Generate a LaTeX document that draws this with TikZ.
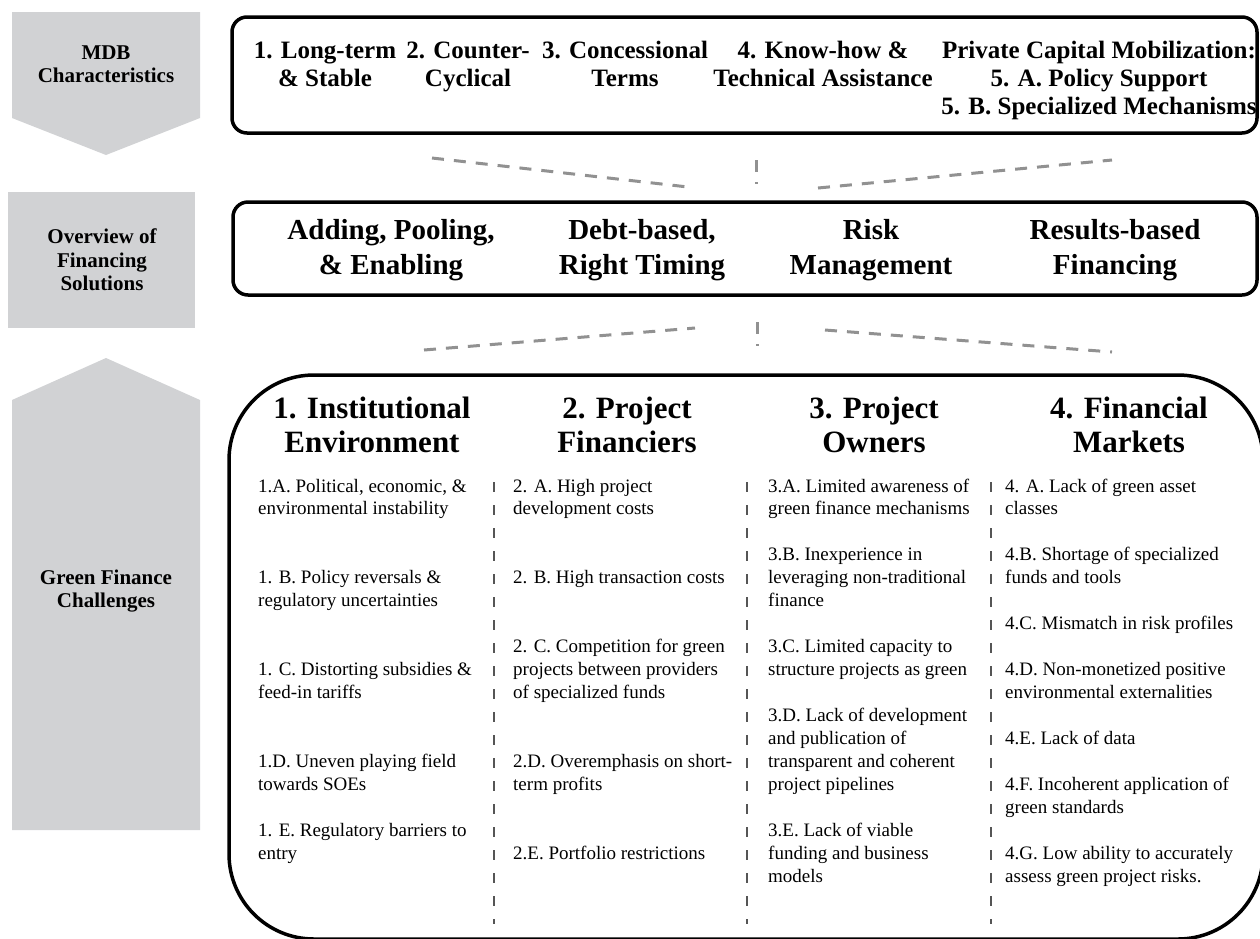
\documentclass[tikz,border=0pt]{standalone}
\usepackage{fontspec}
\setmainfont{Liberation Serif}
\usepackage{tikz}

\definecolor{labelgrey}{RGB}{209,210,212}
\definecolor{fangrey}{RGB}{145,145,145}
\definecolor{rulegrey}{RGB}{85,85,85}
% baseline of text row #1 in the challenges panel
\newcommand{\rowbase}[1]{492+22.95*#1}

\begin{document}
\begin{tikzpicture}[x=1pt,y=-1pt,
  panel/.style = {draw=black, line width=3.5pt, rounded corners=15pt, inner sep=0pt},
  side/.style = {font=\fontsize{21}{23.5}\selectfont\bfseries, align=center},
  chr/.style = {font=\fontsize{25}{28}\selectfont\bfseries, align=center, anchor=base, inner sep=0pt},
  sol/.style = {font=\fontsize{29}{35}\selectfont\bfseries, align=center, anchor=base, inner sep=0pt},
  head/.style = {font=\fontsize{31}{34}\selectfont\bfseries, align=center, anchor=base, inner sep=0pt},
  gap/.style = {font=\fontsize{19}{22.95}\selectfont, align=left, anchor=base west, inner sep=0pt},
  fan/.style = {draw=fangrey, line width=3pt, dash pattern=on 12pt off 10pt},
  colrule/.style = {draw=rulegrey, line width=2.4pt, dash pattern=on 10pt off 13pt}]
\useasboundingbox (0,0) rectangle (1260,938);

% grey labels on the left
\fill[labelgrey] (12,12) -- (200,12) -- (200,118) -- (106,155) -- (12,118) -- cycle;
\fill[labelgrey] (8,192) rectangle (195,328);
\fill[labelgrey] (106,358) -- (200,400) -- (200,830) -- (12,830) -- (12,400) -- cycle;
\node[side] (mdb) at (106,64) {MDB\\Characteristics};
\node[side] (ovw) at (102,260) {Overview of\\Financing\\Solutions};
\node[side] (gfc) at (106,591) {Green Finance\\Challenges};

% MDB characteristics (nodes sit on the baseline of their last line)
\node[panel, minimum width=1025pt, minimum height=116pt] (chrpanel) at (744.5,75) {};
\node[chr] (c1) at (325,86) {1. Long-term\\\& Stable};
\node[chr] (c2) at (468,86) {2. Counter-\\Cyclical};
\node[chr] (c3) at (625,86) {3. Concessional\\Terms};
\node[chr] (c4) at (823,86) {4. Know-how \&\\Technical Assistance};
\node[chr] (c5) at (1099,114) {Private Capital Mobilization:\\5. A. Policy Support\\5. B. Specialized Mechanisms};

% financing solutions
\node[panel, minimum width=1024pt, minimum height=93pt] (solpanel) at (745,248.5) {};
\node[sol] (s1) at (391,274) {Adding, Pooling,\\\& Enabling};
\node[sol] (s2) at (642,274) {Debt-based,\\Right Timing};
\node[sol] (s3) at (871,274) {Risk\\Management};
\node[sol] (s4) at (1115,274) {Results-based\\Financing};

% fan lines between the panels
\coordinate (ua) at (432,158);  \coordinate (ub) at (688,187);
\coordinate (uc) at (756,160);  \coordinate (ud) at (756,184);
\coordinate (ue) at (818,188);  \coordinate (uf) at (1112,160);
\coordinate (la) at (424,350);  \coordinate (lb) at (695,328);
\coordinate (lc) at (757,322);  \coordinate (ld) at (757,346);
\coordinate (le) at (825,330);  \coordinate (lf) at (1112,352);
\foreach \from/\to in {ua/ub,uc/ud,ue/uf,la/lb,lc/ld,le/lf}
  \draw[fan] (\from) -- (\to);

% green finance challenges
\node[panel, rounded corners=85pt, minimum width=1034pt, minimum height=564pt] (chlpanel) at (746,657) {};
\node[head] (h1) at (372,452) {1. Institutional\\Environment};
\node[head] (h2) at (627,452) {2. Project\\Financiers};
\node[head] (h3) at (874,452) {3. Project\\Owners};
\node[head] (h4) at (1129,452) {4. Financial\\Markets};
\foreach \x in {494,747,991}
  \draw[colrule] (\x,482) -- (\x,924);

\node[gap] (i1a) at (258,{\rowbase{1}}) {1.A. Political, economic, \&\\environmental instability};
\node[gap] (i1b) at (258,{\rowbase{5}}) {1. B. Policy reversals \&\\regulatory uncertainties};
\node[gap] (i1c) at (258,{\rowbase{9}}) {1. C. Distorting subsidies \&\\feed-in tariffs};
\node[gap] (i1d) at (258,{\rowbase{13}}) {1.D. Uneven playing field\\towards SOEs};
\node[gap] (i1e) at (258,{\rowbase{16}}) {1. E. Regulatory barriers to\\entry};

\node[gap] (i2a) at (513,{\rowbase{1}}) {2. A. High project\\development costs};
\node[gap] (i2b) at (513,{\rowbase{4}}) {2. B. High transaction costs};
\node[gap] (i2c) at (513,{\rowbase{9}}) {2. C. Competition for green\\projects between providers\\of specialized funds};
\node[gap] (i2d) at (513,{\rowbase{13}}) {2.D. Overemphasis on short-\\term profits};
\node[gap] (i2e) at (513,{\rowbase{16}}) {2.E. Portfolio restrictions};

\node[gap] (i3a) at (768,{\rowbase{1}}) {3.A. Limited awareness of\\green finance mechanisms};
\node[gap] (i3b) at (768,{\rowbase{5}}) {3.B. Inexperience in\\leveraging non-traditional\\finance};
\node[gap] (i3c) at (768,{\rowbase{8}}) {3.C. Limited capacity to\\structure projects as green};
\node[gap] (i3d) at (768,{\rowbase{13}}) {3.D. Lack of development\\and publication of\\transparent and coherent\\project pipelines};
\node[gap] (i3e) at (768,{\rowbase{17}}) {3.E. Lack of viable\\funding and business\\models};

\node[gap] (i4a) at (1005,{\rowbase{1}}) {4. A. Lack of green asset\\classes};
\node[gap] (i4b) at (1005,{\rowbase{4}}) {4.B. Shortage of specialized\\funds and tools};
\node[gap] (i4c) at (1005,{\rowbase{6}}) {4.C. Mismatch in risk profiles};
\node[gap] (i4d) at (1005,{\rowbase{9}}) {4.D. Non-monetized positive\\environmental externalities};
\node[gap] (i4e) at (1005,{\rowbase{11}}) {4.E. Lack of data};
\node[gap] (i4f) at (1005,{\rowbase{14}}) {4.F. Incoherent application of\\green standards};
\node[gap] (i4g) at (1005,{\rowbase{17}}) {4.G. Low ability to accurately\\assess green project risks.};
\end{tikzpicture}
\end{document}
